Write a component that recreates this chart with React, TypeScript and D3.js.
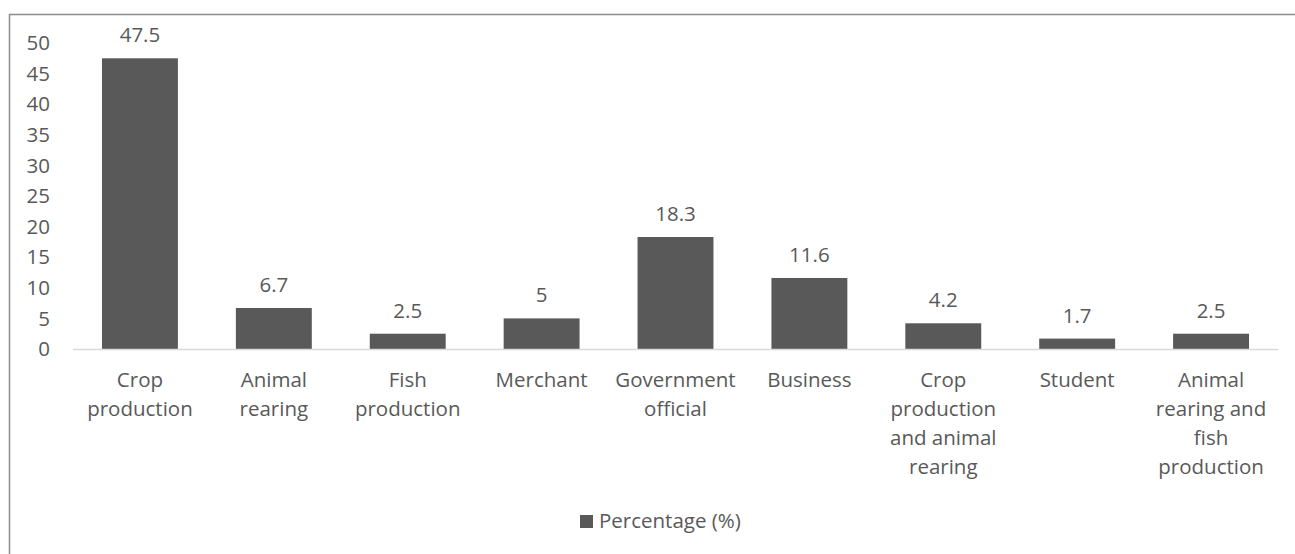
import React from "react";
import * as d3 from "d3";

const categories = [
  ["Crop", "production"],
  ["Animal", "rearing"],
  ["Fish", "production"],
  ["Merchant"],
  ["Government", "official"],
  ["Business"],
  ["Crop", "production", "and animal", "rearing"],
  ["Student"],
  ["Animal", "rearing and", "fish", "production"],
];
const values = [47.5, 6.7, 2.5, 5, 18.3, 11.6, 4.2, 1.7, 2.5];
const valueLabels = ["47.5", "6.7", "2.5", "5", "18.3", "11.6", "4.2", "1.7", "2.5"];
const yTicks = [0, 5, 10, 15, 20, 25, 30, 35, 40, 45, 50];
const seriesName = "Percentage (%)";

const W = 1295;
const H = 554;
const FONT = "'Open Sans', sans-serif";
const TEXT = "#595959";
const BAR = "#595959";
const FS = 20.5;

export default function App() {
  const x = d3
    .scaleBand<number>()
    .domain(values.map((_, i) => i))
    .range([73, 1278])
    .paddingInner(0.433)
    .paddingOuter(0.2165);
  const y = d3.scaleLinear().domain([0, 50]).range([349, 43]);

  return (
    <svg
      width={W}
      height={H}
      style={{ position: "absolute", left: 0, top: 0, fontFamily: FONT }}
    >
      <rect x={0} y={0} width={W} height={H} fill="#fff" />
      <rect x={9.5} y={14.5} width={W + 20} height={H + 20} fill="none" stroke="#8c8c8c" strokeWidth={1.5} />
      {yTicks.map((t) => (
        <text key={t} x={50} y={y(t)} dy="0.35em" textAnchor="end" fontSize={FS} fill={TEXT}>
          {t}
        </text>
      ))}
      {values.map((v, i) => {
        const bx = x(i)!;
        const bw = x.bandwidth();
        return (
          <g key={i}>
            <rect x={bx} y={y(v)} width={bw} height={y(0) - y(v)} fill={BAR} />
            <text x={bx + bw / 2} y={y(v) - 16} textAnchor="middle" fontSize={FS} fill={TEXT}>
              {valueLabels[i]}
            </text>
            {categories[i].map((line, j) => (
              <text
                key={j}
                x={bx + bw / 2}
                y={387 + j * 29}
                textAnchor="middle"
                fontSize={FS}
                fill={TEXT}
              >
                {line}
              </text>
            ))}
          </g>
        );
      })}
      <line x1={73} x2={1278} y1={y(0) + 0.5} y2={y(0) + 0.5} stroke="#d9d9d9" strokeWidth={1.5} />
      <rect x={580} y={515} width={13} height={13} fill={BAR} />
      <text x={599} y={528} fontSize={FS} fill={TEXT}>
        {seriesName}
      </text>
    </svg>
  );
}
